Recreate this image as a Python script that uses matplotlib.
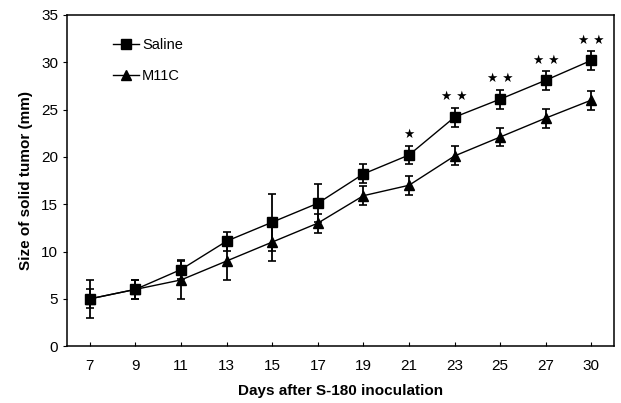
import numpy as np
import matplotlib.pyplot as plt

plt.rcParams['font.family'] = ['Liberation Sans', 'DejaVu Sans']

days = ['7', '9', '11', '13', '15', '17', '19', '21', '23', '25', '27', '30']
saline = [5, 6, 8.1, 11.1, 13.1, 15.1, 18.2, 20.2, 24.2, 26.1, 28.1, 30.2]
saline_err = [2, 1, 1, 1, 3, 2, 1, 1, 1, 1, 1, 1]
m11c = [5, 6, 7, 9, 11, 13, 15.9, 17, 20.1, 22.1, 24.1, 26]
m11c_err = [1, 1, 2, 2, 2, 1, 1, 1, 1, 1, 1, 1]
stars = ['', '', '', '', '', '', '', '\u2605', '\u2605 \u2605', '\u2605 \u2605', '\u2605 \u2605', '\u2605 \u2605']

x = np.arange(len(days))

fig = plt.figure(figsize=(6.21, 4.03), dpi=100)
ax = fig.add_axes([0.108, 0.141, 0.881, 0.822])

ax.errorbar(x, saline, yerr=saline_err, fmt='-s', color='black', lw=1,
            ms=6.5, elinewidth=1.3, capsize=3, capthick=1.2, label='Saline')
ax.errorbar(x, m11c, yerr=m11c_err, fmt='-^', color='black', lw=1,
            ms=6.5, elinewidth=1.3, capsize=3, capthick=1.2, label='M11C')

for i, s in enumerate(stars):
    if s:
        ax.text(x[i], saline[i] + saline_err[i] + 0.45, s, ha='center', va='bottom',
                fontsize=9, family=['DejaVu Sans'])

ax.set_xlim(-0.5, len(days) - 0.5)
ax.set_ylim(0, 35)
ax.set_xticks(x)
ax.set_xticklabels(days)
ax.set_yticks(range(0, 36, 5))
ax.tick_params(axis='x', direction='in', length=3, labelsize=11, pad=9)
ax.tick_params(axis='y', direction='out', length=3, labelsize=11)
for sp in ax.spines.values():
    sp.set_linewidth(1.1)

ax.set_xlabel('Days after S-180 inoculation', fontsize=11, fontweight='bold', labelpad=8)
ax.set_ylabel('Size of solid tumor (mm)', fontsize=11, fontweight='bold', labelpad=6)

handles, labels = ax.get_legend_handles_labels()
handles = [h[0] for h in handles]
ax.legend(handles, labels, loc='upper left', bbox_to_anchor=(0.06, 0.97), frameon=False,
          fontsize=10.5, handlelength=1.8, handletextpad=0.2, labelspacing=1.2)

fig.savefig('out.png', dpi=100)
